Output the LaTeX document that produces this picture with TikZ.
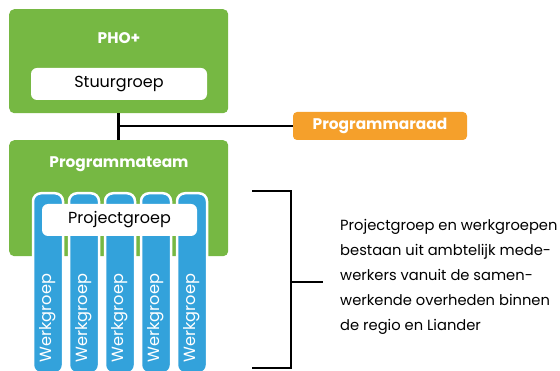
\documentclass[tikz,border=0pt]{standalone}
\usepackage{fontspec}
\setmainfont{Poppins}
\usetikzlibrary{positioning,calc}
\definecolor{pgreen}{HTML}{76B843}
\definecolor{porange}{HTML}{F5A02B}
\definecolor{pblue}{HTML}{33A2DB}

\begin{document}
\begin{tikzpicture}
   [x=1pt,y=-1pt,
      groupbox/.style={shape=rectangle,fill=pgreen,rounded corners=5pt,
      minimum width=219pt,inner sep=0pt},
      title/.style={text=white,font=\fontsize{15.4}{17}\selectfont\bfseries,inner sep=0pt},
      whitebox/.style={shape=rectangle,fill=white,rounded corners=6pt,inner sep=0pt,
      font=\fontsize{16}{18}\selectfont},
      council/.style={shape=rectangle,fill=porange,rounded corners=4pt,text=white,
      font=\fontsize{15.4}{17}\selectfont\bfseries,minimum width=174pt,minimum height=28pt,inner sep=0pt},
      column/.style={shape=rectangle,fill=pblue,draw=white,line width=2.5pt,
      rounded corners=8pt,minimum width=30pt,minimum height=180pt,inner sep=0pt},
      wlbl/.style={rotate=90,text=white,font=\fontsize{16.2}{18}\selectfont,inner sep=0pt},
      conn/.style={line width=2.8pt,black},
      note/.style={align=left,inner sep=0pt,font=\fontsize{14.7}{25}\selectfont}]
\useasboundingbox (0,0) rectangle (560,371);
%%
%% top: PHO+ with stuurgroep
\node (pho) [groupbox,minimum height=104pt,anchor=north west] at (9,9) {};
\node (phot) [title] at (119,38) {PHO+};
\node (stuur) [whitebox,minimum width=176pt,minimum height=32pt] at (119,84) {Stuurgroep};
%%
%% programmaraad
\node (raad) [council] at (380,126) {Programmaraad};
%%
%% programmateam
\node (team) [groupbox,minimum height=116pt,anchor=north west] at (9,140) {};
\node (teamt) [title] at (119,164) {Programmateam};
%%
\draw[conn] (pho.south) -- (team.north);
\coordinate (split) at (pho.south |- raad.west);
\draw[conn] (split) -- (raad.west);
%%
%% werkgroepen
\node (wg1) [column,anchor=north] at (48,192) {};
\node (wg2) [column,anchor=north] at (84,192) {};
\node (wg3) [column,anchor=north] at (120,192) {};
\node (wg4) [column,anchor=north] at (156,192) {};
\node (wg5) [column,anchor=north] at (192,192) {};
\node (wt1) [wlbl] at (48,318) {Werkgroep};
\node (wt2) [wlbl] at (84,318) {Werkgroep};
\node (wt3) [wlbl] at (120,318) {Werkgroep};
\node (wt4) [wlbl] at (156,318) {Werkgroep};
\node (wt5) [wlbl] at (192,318) {Werkgroep};
\node (proj) [whitebox,minimum width=155pt,minimum height=32pt] at (119.5,220) {Projectgroep};
%%
%% bracket and note
\coordinate (btop) at (252,191);
\coordinate (bbot) at (252,368);
\coordinate (bmid) at (291,282);
\draw[conn] (btop) -- (291,191) -- (291,368) -- (bbot);
\node (txt) [note,anchor=west] at (340,277) {Projectgroep en werkgroepen\\
bestaan uit ambtelijk mede-\\
werkers vanuit de samen-\\
werkende overheden binnen\\
de regio en Liander};
\draw[conn] (bmid) -- +(32,0);
\end{tikzpicture}
\end{document}
